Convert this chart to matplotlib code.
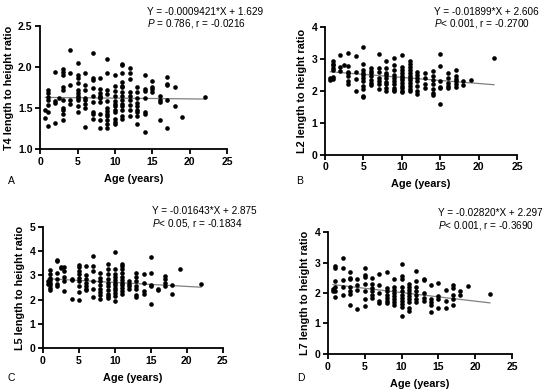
import numpy as np
import matplotlib
matplotlib.use("Agg")
import matplotlib.pyplot as plt
from matplotlib.ticker import FormatStrFormatter

plt.rcParams['font.family'] = ['Liberation Sans', 'DejaVu Sans']
plt.rcParams['mathtext.fontset'] = 'custom'
plt.rcParams['mathtext.it'] = 'Liberation Sans:italic'
plt.rcParams['mathtext.rm'] = 'Liberation Sans'

# ratio values, grouped by age (years)
t4_by_age = {
    0.7: [1.38, 1.47],
    1: [1.72, 1.68, 1.63, 1.60, 1.54, 1.45, 1.28],
    2: [1.94, 1.58, 1.56, 1.32],
    2.5: [1.62],
    3: [1.97, 1.94, 1.90, 1.75, 1.72, 1.60, 1.50, 1.48, 1.43, 1.35],
    4: [2.20, 1.92, 1.78, 1.60, 1.55],
    5: [2.05, 1.90, 1.86, 1.80, 1.72, 1.68, 1.64, 1.62, 1.60, 1.52, 1.45],
    6: [1.92, 1.78, 1.72, 1.62, 1.60, 1.55, 1.50, 1.27],
    7: [2.17, 1.86, 1.84, 1.74, 1.64, 1.57, 1.45, 1.42, 1.37],
    8: [1.86, 1.73, 1.68, 1.65, 1.63, 1.62, 1.57, 1.43, 1.35, 1.25],
    9: [2.10, 1.92, 1.72, 1.67, 1.58, 1.50, 1.46, 1.43, 1.40, 1.35, 1.30, 1.26],
    10: [1.90, 1.77, 1.71, 1.65, 1.58, 1.55, 1.52, 1.48, 1.45, 1.37, 1.33, 1.31],
    11: [2.04, 2.02, 1.93, 1.82, 1.77, 1.75, 1.70, 1.65, 1.60, 1.55, 1.52, 1.48, 1.40, 1.36],
    12: [1.99, 1.92, 1.85, 1.70, 1.65, 1.60, 1.54, 1.48, 1.40],
    13: [1.76, 1.70, 1.62, 1.56, 1.52, 1.48, 1.45, 1.40, 1.31],
    14: [1.90, 1.73, 1.71, 1.62, 1.45, 1.43, 1.21],
    15: [1.83, 1.76, 1.73, 1.70],
    16: [1.64, 1.60, 1.57, 1.35],
    17: [1.88, 1.79, 1.78, 1.60, 1.25],
    18: [1.76, 1.52],
    19: [1.39],
    22: [1.63],
}

l2_by_age = {
    0.7: [2.35, 2.40],
    1: [2.92, 2.85, 2.80, 2.72, 2.65, 2.42, 2.38],
    2: [3.12, 2.75, 2.62],
    2.5: [2.80],
    3: [3.18, 2.78, 2.60, 2.55, 2.45, 2.30, 2.20],
    4: [3.08, 2.60, 2.38, 2.00],
    5: [3.38, 2.82, 2.65, 2.55, 2.50, 2.40, 2.30, 2.15, 2.05, 1.85, 1.82],
    6: [2.70, 2.62, 2.55, 2.45, 2.35, 2.25, 2.18],
    7: [3.15, 2.70, 2.60, 2.40, 2.30, 2.20, 2.05],
    8: [2.92, 2.70, 2.55, 2.48, 2.40, 2.28, 2.20, 2.10, 2.00],
    9: [3.02, 2.80, 2.65, 2.50, 2.40, 2.30, 2.20, 2.10, 2.02, 1.98],
    10: [3.10, 2.75, 2.65, 2.55, 2.45, 2.40, 2.35, 2.25, 2.15, 2.08, 2.00, 1.96],
    11: [2.92, 2.85, 2.75, 2.65, 2.55, 2.45, 2.40, 2.32, 2.25, 2.15, 2.05, 1.98],
    12: [2.60, 2.50, 2.40, 2.30, 2.15, 2.00, 1.90],
    13: [2.55, 2.40, 2.20, 2.10],
    14: [2.62, 2.45, 2.35, 2.20, 2.05, 1.92, 1.88],
    15: [3.15, 2.78, 2.30, 2.12, 2.08, 1.58],
    16: [2.55, 2.40, 2.25, 2.15, 2.08],
    17: [2.65, 2.45, 2.38, 2.30, 2.20, 2.12],
    18: [2.30, 2.18],
    19: [2.32],
    22: [3.02],
}

l5_by_age = {
    0.7: [2.75, 2.65],
    1: [3.22, 3.05, 2.90, 2.80, 2.70, 2.60, 2.48, 2.38],
    2: [3.65, 3.60, 3.10, 2.85, 2.65, 2.55],
    2.5: [3.35, 3.30],
    3: [3.35, 3.20, 2.95, 2.75, 2.35],
    4: [2.85, 2.80, 2.02],
    5: [3.45, 3.35, 3.20, 3.05, 2.90, 2.78, 2.55, 2.30, 1.98],
    6: [3.38, 3.00, 2.85, 2.70, 2.55, 2.45, 2.40],
    7: [3.82, 3.40, 3.20, 2.75, 2.45, 2.10],
    8: [3.10, 2.90, 2.75, 2.60, 2.45, 2.30, 2.20, 2.02],
    9: [3.48, 3.25, 3.05, 2.85, 2.70, 2.55, 2.40, 2.25, 2.15, 2.08],
    10: [3.95, 3.25, 3.05, 2.95, 2.80, 2.70, 2.60, 2.50, 2.40, 2.28, 2.15, 1.95],
    11: [3.48, 3.40, 3.28, 3.10, 2.95, 2.80, 2.70, 2.60, 2.50, 2.35, 2.25],
    12: [2.75, 2.65, 2.55, 2.45],
    13: [3.08, 2.95, 2.75, 2.55, 2.45, 2.20, 2.10],
    14: [3.05, 2.70, 2.35, 2.25],
    15: [3.75, 3.08, 2.60, 2.55, 1.82],
    16: [2.45, 2.38],
    17: [2.98, 2.85, 2.70, 2.55],
    18: [2.62, 2.25],
    19: [3.25],
    22: [2.65],
}

l7_by_age = {
    0.7: [2.12, 2.08],
    1: [2.88, 2.82, 2.40, 2.20, 2.05, 1.88],
    2: [3.15, 2.82, 2.42, 2.20, 1.92],
    3: [2.70, 2.50, 2.45, 2.20, 2.05, 1.98, 1.62],
    4: [2.45, 2.25, 2.10, 1.48],
    5: [2.82, 2.60, 2.52, 2.30, 2.08, 1.80, 1.58],
    6: [2.48, 2.30, 2.15, 2.05, 1.95, 1.85],
    7: [2.62, 2.25, 2.00, 1.75, 1.68],
    8: [2.70, 2.15, 2.05, 1.95, 1.85, 1.75, 1.68],
    9: [2.45, 2.20, 2.10, 2.00, 1.90, 1.80, 1.72, 1.62],
    10: [2.95, 2.55, 2.45, 2.20, 2.05, 1.95, 1.85, 1.75, 1.65, 1.55, 1.25],
    11: [2.30, 2.20, 2.10, 2.00, 1.90, 1.80, 1.70, 1.50, 1.42],
    12: [2.72, 2.40, 2.20, 2.05, 1.95, 1.80, 1.72],
    13: [2.45, 2.42, 2.00, 1.85, 1.75],
    14: [2.25, 1.80, 1.70, 1.62, 1.38],
    15: [2.32, 1.90, 1.80, 1.52],
    16: [2.10, 1.75, 1.52],
    17: [2.25, 2.15, 1.95, 1.80, 1.62],
    18: [2.05, 1.95],
    19: [2.22],
    22: [1.97],
}

# regression results printed on the chart
slopes = [-0.0009421, -0.01899, -0.01643, -0.02820]
intercepts = [1.629, 2.606, 2.875, 2.297]
eq_texts = ["Y = -0.0009421*X + 1.629", "Y = -0.01899*X + 2.606",
            "Y = -0.01643*X + 2.875", "Y = -0.02820*X + 2.297"]
stat_texts = [r"$P$ = 0.786, r = -0.0216", r"$P$< 0.001, r = -0.2700",
              r"$P$< 0.05, r = -0.1834", r"$P$< 0.001, r = -0.3690"]
ylabels = ["T4 length to height ratio", "L2 length to height ratio",
           "L5 length to height ratio", "L7 length to height ratio"]
letters = ["A", "B", "C", "D"]
yticks = [[1.0, 1.5, 2.0, 2.5], [0, 1, 2, 3, 4], [0, 1, 2, 3, 4, 5], [0, 1, 2, 3, 4]]
yfmt = ['%.1f', '%d', '%d', '%d']
xticks = [0, 5, 10, 15, 20, 25]
datasets = [t4_by_age, l2_by_age, l5_by_age, l7_by_age]

# axes rectangles in figure fraction
rects = [
    [0.073, 0.620, 0.340, 0.314],
    [0.591, 0.605, 0.349, 0.327],
    [0.078, 0.112, 0.327, 0.309],
    [0.596, 0.097, 0.335, 0.311],
]
# text positions in pixels (x of equation, y of equation, letter x, letter y)
text_px = [(147, 12, 8, 181), (434, 12, 296, 181), (152, 211, 8, 378), (438, 213, 297, 378)]

W, H = 550, 392
fig = plt.figure(figsize=(W / 100, H / 100), dpi=100)

for i, data in enumerate(datasets):
    ax = fig.add_axes(rects[i])
    ages = np.concatenate([[a] * len(v) for a, v in data.items()])
    vals = np.concatenate([v for v in data.values()])
    ax.scatter(ages, vals, s=11, color='black', lw=0, zorder=3, clip_on=False)

    xl = np.array([ages.min(), ages.max()])
    ax.plot(xl, slopes[i] * xl + intercepts[i], color='#808080', lw=0.9, zorder=2)

    ax.set_xlim(0, 25)
    ax.set_ylim(yticks[i][0], yticks[i][-1])
    ax.set_xticks(xticks)
    ax.set_yticks(yticks[i])
    ax.yaxis.set_major_formatter(FormatStrFormatter(yfmt[i]))
    for s in ['top', 'right']:
        ax.spines[s].set_visible(False)
    for s in ['left', 'bottom']:
        ax.spines[s].set_linewidth(1.3)
    ax.tick_params(direction='out', length=3.5, width=1.3, labelsize=7.5, pad=2)
    for lab in ax.get_xticklabels() + ax.get_yticklabels():
        lab.set_fontweight('bold')
    ax.set_xlabel("Age (years)", fontsize=7.8, fontweight='bold', labelpad=5)
    ax.set_ylabel(ylabels[i], fontsize=7.8, fontweight='bold', labelpad=3)

    ex, ey, lx, ly = text_px[i]
    fig.text(ex / W, 1 - ey / H, eq_texts[i], fontsize=7.2, va='center', ha='left')
    fig.text(ex / W, 1 - (ey + 12) / H, stat_texts[i], fontsize=7.2, va='center', ha='left')
    fig.text(lx / W, 1 - ly / H, letters[i], fontsize=7.5, va='center', ha='left')

fig.savefig("out.png", dpi=100)
